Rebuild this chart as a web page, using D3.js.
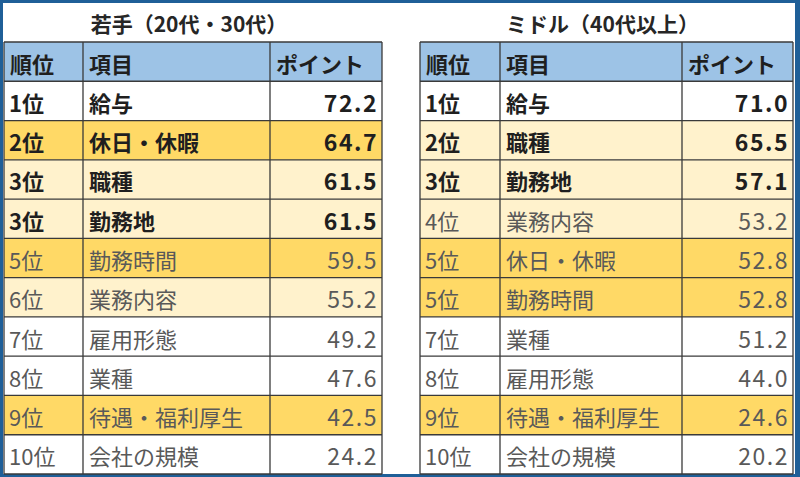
<!DOCTYPE html>
<html><head><meta charset="utf-8">
<script src="https://cdn.jsdelivr.net/npm/d3@7"></script>
<style>html,body{margin:0;padding:0;background:#fff;}svg{display:block;}</style>
</head><body>
<svg id="chart" width="800" height="477"></svg>
<script>
// ---- data ----
const tableTitles = ["若手（20代・30代）", "ミドル（40代以上）"];
const headers = ["順位", "項目", "ポイント"];

const youngRanks = ["1位","2位","3位","3位","5位","6位","7位","8位","9位","10位"];
const youngItems = ["給与","休日・休暇","職種","勤務地","勤務時間","業務内容","雇用形態","業種","待遇・福利厚生","会社の規模"];
const youngPoints = [72.2, 64.7, 61.5, 61.5, 59.5, 55.2, 49.2, 47.6, 42.5, 24.2];
const youngHighlight = ["none","strong","light","light","strong","light","none","none","strong","none"];
const youngEmphasis = [true, true, true, true, false, false, false, false, false, false];

const middleRanks = ["1位","2位","3位","4位","5位","5位","7位","8位","9位","10位"];
const middleItems = ["給与","職種","勤務地","業務内容","休日・休暇","勤務時間","業種","雇用形態","待遇・福利厚生","会社の規模"];
const middlePoints = [71.0, 65.5, 57.1, 53.2, 52.8, 52.8, 51.2, 44.0, 24.6, 20.2];
const middleHighlight = ["none","light","light","light","strong","strong","none","none","strong","none"];
const middleEmphasis = [true, true, true, false, false, false, false, false, false, false];

// ---- layout ----
const W = 800, H = 477;
const svg = d3.select("#chart");
const font = "'Noto Sans CJK JP', 'Noto Sans', sans-serif";

// blue frame
svg.append("rect").attr("x",0).attr("y",0).attr("width",W).attr("height",H).attr("fill","#1f5f98");
svg.append("rect").attr("x",3).attr("y",3).attr("width",792).attr("height",471).attr("fill","#ffffff");

const fillScale = d3.scaleOrdinal().domain(["none","light","strong"]).range(["#ffffff","#fff2cc","#ffd966"]);
const fmt = d3.format(".1f");

const rowKeys = ["header"].concat(d3.range(10));
const y = d3.scaleBand().domain(rowKeys).range([42, 474]);

const tables = [
  {title: tableTitles[0], ranks: youngRanks, items: youngItems, points: youngPoints, hl: youngHighlight, em: youngEmphasis,
   cols: [4, 83, 270, 382]},
  {title: tableTitles[1], ranks: middleRanks, items: middleItems, points: middlePoints, hl: middleHighlight, em: middleEmphasis,
   cols: [420, 500, 682, 793]}
];

tables.forEach(t => {
  const g = svg.append("g");
  const c = t.cols;
  const cx = (c[0] + c[3]) / 2;
  g.append("text").attr("x", cx - 4).attr("y", 23)
    .attr("text-anchor","middle").attr("dominant-baseline","central")
    .attr("font-family", font).attr("font-size", 21).attr("font-weight","bold").attr("fill","#262626")
    .text(t.title);

  // header
  g.append("rect").attr("x", c[0]).attr("y", y("header")).attr("width", c[3]-c[0]).attr("height", y.bandwidth())
    .attr("fill", "#9dc3e6");
  headers.forEach((h, i) => {
    g.append("text").attr("x", c[i] + 6).attr("y", y("header") + y.bandwidth()/2 + 1)
      .attr("dominant-baseline","central")
      .attr("font-family", font).attr("font-size", 22).attr("font-weight","bold").attr("fill","#1f1f1f")
      .text(h);
  });

  const rows = d3.range(10).map(i => ({i, rank: t.ranks[i], item: t.items[i], pt: t.points[i], hl: t.hl[i], em: t.em[i]}));
  const rg = g.selectAll("g.row").data(rows).join("g").attr("class","row")
    .attr("transform", d => `translate(0,${y(d.i)})`);
  rg.append("rect").attr("x", c[0]).attr("y", 0).attr("width", c[3]-c[0]).attr("height", y.bandwidth())
    .attr("fill", d => fillScale(d.hl));
  const txt = (sel) => sel.attr("dominant-baseline","central").attr("y", y.bandwidth()/2 + 1)
    .attr("font-family", font).attr("font-size", 22)
    .attr("font-weight", d => d.em ? "bold" : "normal")
    .attr("fill", d => d.em ? "#1f1f1f" : "#595959");
  rg.append("text").call(txt).attr("x", c[0] + 5).text(d => d.rank);
  rg.append("text").call(txt).attr("x", c[1] + 6).text(d => d.item);
  rg.append("text").call(txt).attr("x", c[3] - 4).attr("text-anchor","end")
    .attr("font-size", 23).attr("letter-spacing", 1.5).text(d => fmt(d.pt));

  // grid lines
  const lineColor = "#3a3a3a";
  rowKeys.concat(["end"]).forEach(k => {
    const yy = k === "end" ? y.range()[1] : y(k);
    g.append("line").attr("x1", c[0]).attr("x2", c[3]).attr("y1", yy).attr("y2", yy)
      .attr("stroke", lineColor).attr("stroke-width", 1.3);
  });
  c.forEach(xx => {
    g.append("line").attr("x1", xx).attr("x2", xx).attr("y1", y.range()[0]).attr("y2", y.range()[1])
      .attr("stroke", lineColor).attr("stroke-width", 1.3);
  });
});
</script>
</body></html>
